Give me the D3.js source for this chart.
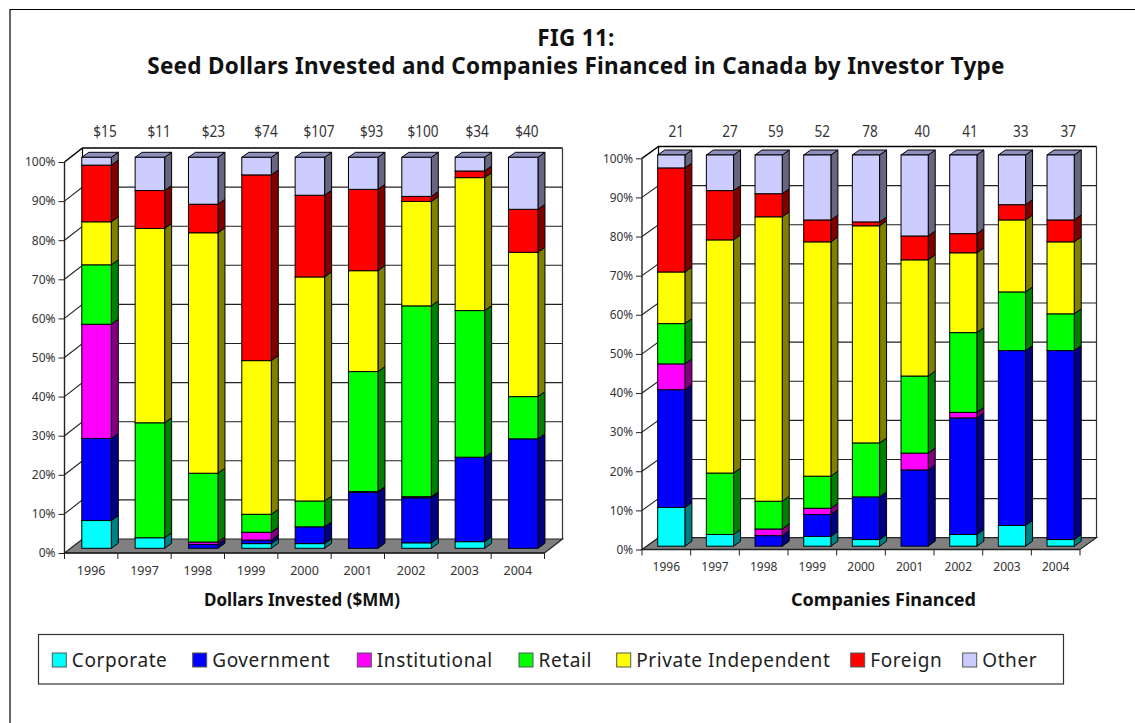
<!DOCTYPE html>
<html>
<head>
<meta charset="utf-8">
<script src="https://cdn.jsdelivr.net/npm/d3@7"></script>
<style>
  html, body { margin: 0; padding: 0; background: #fff; }
  svg { display: block; }
  text { font-family: "Noto Sans", "Open Sans", sans-serif; }
</style>
</head>
<body>
<div id="chart"></div>
<script>
const years = ["1996", "1997", "1998", "1999", "2000", "2001", "2002", "2003", "2004"];
const seriesNames = ["Corporate", "Government", "Institutional", "Retail", "Private Independent", "Foreign", "Other"];
const seriesColors = ["#00ffff", "#0000ff", "#ff00ff", "#00ff00", "#ffff00", "#ff0000", "#ccccff"];

const dollarTotals = ["$15", "$11", "$23", "$74", "$107", "$93", "$100", "$34", "$40"];
const companyTotals = ["21", "27", "59", "52", "78", "40", "41", "33", "37"];
const percentTicks = [0, 10, 20, 30, 40, 50, 60, 70, 80, 90, 100];

// share of each investor type per year (one row per series)
const dollarCorporate = [7.1, 2.7, 0, 1.2, 1.2, 0, 1.4, 1.7, 0];
const dollarGovernment = [21, 0, 1, 0.9, 4.3, 14.3, 11.5, 21.6, 28];
const dollarInstitutional = [29.2, 0, 0.6, 2, 0, 0.2, 0.3, 0, 0];
const dollarRetail = [15.2, 29.4, 17.6, 4.6, 6.6, 30.7, 48.8, 37.5, 10.8];
const dollarPrivate = [11, 49.7, 61.5, 39.3, 57.3, 25.8, 26.7, 34, 36.9];
const dollarForeign = [14.5, 9.7, 7.3, 47.5, 20.9, 20.8, 1.3, 1.7, 11];
const dollarOther = [2, 8.5, 12, 4.5, 9.7, 8.2, 10, 3.5, 13.3];

const companyCorporate = [9.9, 3, 0, 2.5, 1.7, 0, 3, 5.3, 1.7];
const companyGovernment = [30.1, 0, 2.7, 5.6, 10.9, 19.5, 29.8, 44.7, 48.3];
const companyInstitutional = [6.6, 0, 1.7, 1.6, 0, 4.3, 1.4, 0, 0];
const companyRetail = [10.3, 15.7, 7.1, 8.2, 13.8, 19.7, 20.4, 15, 9.4];
const companyPrivate = [13.2, 59.6, 72.7, 59.9, 55.5, 29.7, 20.4, 18.4, 18.4];
const companyForeign = [26.6, 12.6, 5.9, 5.6, 1, 6.1, 4.9, 3.9, 5.6];
const companyOther = [3.3, 9.1, 9.9, 16.6, 17.1, 20.7, 20.1, 12.7, 16.6];

const dollarRows = [dollarCorporate, dollarGovernment, dollarInstitutional, dollarRetail, dollarPrivate, dollarForeign, dollarOther];
const companyRows = [companyCorporate, companyGovernment, companyInstitutional, companyRetail, companyPrivate, companyForeign, companyOther];

const svg = d3.select("#chart").append("svg").attr("width", 1135).attr("height", 723);
const ink = "#333";

// outer frame
svg.append("path")
    .attr("d", "M10,723V9.5H1135")
    .attr("fill", "none").attr("stroke", "#000").attr("stroke-width", 1.2);

// titles
const title = svg.append("text")
    .attr("text-anchor", "middle")
    .attr("font-weight", 700)
    .attr("font-size", 22.5)
    .attr("letter-spacing", 0.3)
    .attr("fill", "#111");
title.append("tspan").attr("x", 576).attr("y", 46).text("FIG 11:");
title.append("tspan").attr("x", 576).attr("y", 74).text("Seed Dollars Invested and Companies Financed in Canada by Investor Type");

// draws one pseudo-3D stacked column panel
function drawPanel(cfg) {
    const g = svg.append("g");
    const { left, right, base, top, depthX, depthY, barDepthX, barDepthY, barOffset, barW, barLift } = cfg;

    const x = d3.scaleBand().domain(years).range([left, right]);
    const y = d3.scaleLinear().domain([0, 100]).range([base, top]);

    // back wall
    g.append("path")
        .attr("d", `M${left},${top}L${left + depthX},${top - depthY}H${right + depthX}V${base - depthY}L${right},${base}H${left}Z`)
        .attr("fill", "#fff");

    // gridlines on the back wall and the side wall
    percentTicks.filter(t => t > 0).forEach(t => {
        g.append("path")
            .attr("d", `M${left},${y(t)}L${left + depthX},${y(t) - depthY}H${right + depthX}`)
            .attr("fill", "none")
            .attr("stroke", t === 100 ? "#000" : "#222")
            .attr("stroke-width", t === 100 ? 1.5 : 1.1);
    });

    g.append("path")
        .attr("d", `M${left + depthX},${top - depthY}V${base - depthY}`)
        .attr("stroke", "#000").attr("stroke-width", 1.2);
    g.append("path")
        .attr("d", `M${right + depthX},${top - depthY}V${base - depthY}`)
        .attr("stroke", "#333").attr("stroke-width", 1.2);

    // floor
    g.append("path")
        .attr("d", `M${left},${base}L${left + depthX},${base - depthY}H${right + depthX}L${right},${base}Z`)
        .attr("fill", "#808080").attr("stroke", "#222").attr("stroke-width", 1.2);

    // stacked bars
    const stack = d3.stack().keys(d3.range(seriesNames.length)).value((d, k) => cfg.rows[k][d]);
    const layers = stack(d3.range(years.length));

    layers.forEach((layer, k) => {
        const c = d3.color(seriesColors[k]);
        const sideColor = d3.rgb(c.r / 2, c.g / 2, c.b / 2);
        const topColor = d3.rgb(c.r * 0.7, c.g * 0.7, c.b * 0.74);
        layer.forEach((d, i) => {
            if (d[1] - d[0] <= 0) return;
            const bx = x(years[i]) + barOffset;
            const y0 = y(d[0]) - barLift;
            const y1 = y(d[1]) - barLift;
            const col = g.append("g").attr("stroke", "#000").attr("stroke-width", 1);
            // side face
            col.append("path")
                .attr("d", `M${bx + barW},${y1}l${barDepthX},${-barDepthY}V${y0 - barDepthY}L${bx + barW},${y0}Z`)
                .attr("fill", sideColor);
            // top face only on the top segment
            if (k === seriesNames.length - 1) {
                col.append("path")
                    .attr("d", `M${bx},${y1}l${barDepthX},${-barDepthY}h${barW}l${-barDepthX},${barDepthY}Z`)
                    .attr("fill", topColor);
            }
            col.append("rect")
                .attr("x", bx).attr("y", y1)
                .attr("width", barW).attr("height", y0 - y1)
                .attr("fill", seriesColors[k]);
        });
    });

    // front left axis with ticks
    g.append("path")
        .attr("d", `M${left},${top}V${base}H${right}`)
        .attr("fill", "none").attr("stroke", "#222").attr("stroke-width", 1.4);

    const yAxis = d3.axisLeft(y).tickValues(percentTicks).tickFormat(d => d + "%").tickSize(6).tickPadding(3);
    const yg = g.append("g").attr("transform", `translate(${left},0)`).call(yAxis);
    yg.select(".domain").remove();
    yg.selectAll("line").attr("stroke", "#222");
    yg.selectAll("text").attr("font-size", cfg.tickSize).attr("fill", ink).attr("font-family", "Noto Sans");

    const xAxis = d3.axisBottom(x).tickSize(0).tickPadding(cfg.xPad);
    const xg = g.append("g").attr("transform", `translate(0,${base})`).call(xAxis);
    xg.select(".domain").remove();
    xg.selectAll("text").attr("font-size", cfg.yearSize).attr("fill", ink).attr("font-family", "Noto Sans");

    // x tick marks sit on the band edges
    d3.range(years.length + 1).forEach(i => {
        const tx = left + i * x.step();
        g.append("line")
            .attr("x1", tx).attr("x2", tx).attr("y1", base).attr("y2", base + 6)
            .attr("stroke", "#222");
    });

    // totals above the columns, squeezed sideways because the original face is condensed
    g.selectAll(".total").data(cfg.totals).enter().append("text")
        .attr("class", "total")
        .attr("transform", (d, i) => `translate(${x(years[i]) + cfg.totalShift[i]},136.5) scale(0.8,1)`)
        .attr("text-anchor", "middle")
        .attr("font-size", 17)
        .attr("fill", ink)
        .text(d => d);

    g.append("text")
        .attr("x", cfg.labelX).attr("y", 606)
        .attr("text-anchor", "middle")
        .attr("font-weight", 700).attr("font-size", cfg.labelSize).attr("fill", "#111")
        .text(cfg.label);
}

drawPanel({
    rows: dollarRows, totals: dollarTotals, label: "Dollars Invested ($MM)",
    left: 64.5, right: 544.5, base: 553, top: 162,
    depthX: 18, depthY: 14, barDepthX: 7, barDepthY: 5, barOffset: 17.3, barW: 29.5, barLift: 4.7,
    tickSize: 12, yearSize: 12.5, xPad: 13,
    totalShift: [40.5, 41.2, 42.3, 41.5, 41.2, 40.5, 38.5, 39.2, 35.8],
    labelX: 302, labelSize: 17
});

drawPanel({
    rows: companyRows, totals: companyTotals, label: "Companies Financed",
    left: 642, right: 1080, base: 549.5, top: 158.3,
    depthX: 16.5, depthY: 11.8, barDepthX: 7, barDepthY: 5, barOffset: 15.7, barW: 27.2, barLift: 3.3,
    tickSize: 11.8, yearSize: 12, xPad: 13,
    totalShift: [34.3, 39.3, 36.4, 34.3, 33.3, 37, 36, 38, 37],
    labelX: 883.5, labelSize: 18
});

// legend
const legend = svg.append("g");
legend.append("rect")
    .attr("x", 38.5).attr("y", 634.5)
    .attr("width", 1025).attr("height", 49.5)
    .attr("fill", "#fff").attr("stroke", "#333").attr("stroke-width", 1.2);

const legendX = [52.3, 192.7, 357.3, 519, 616.7, 850.7, 962.7];
seriesNames.forEach((name, i) => {
    const item = legend.append("g").attr("transform", `translate(${legendX[i]},653)`);
    item.append("rect")
        .attr("width", 14).attr("height", 14)
        .attr("fill", seriesColors[i])
        .attr("stroke", "#555").attr("stroke-width", 1);
    item.append("text")
        .attr("x", 19.5).attr("y", 13.7)
        .attr("font-size", 19)
        .attr("letter-spacing", 0.6)
        .attr("fill", "#222")
        .text(name);
});
</script>
</body>
</html>
